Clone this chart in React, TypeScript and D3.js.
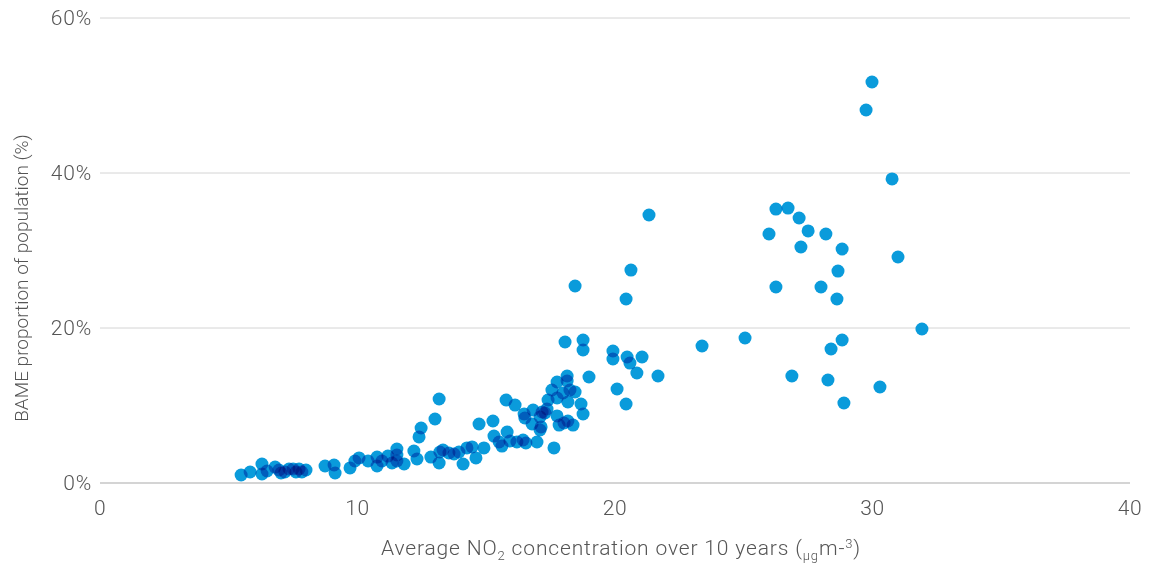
import React from "react";
import * as d3 from "d3";

const no2: number[] = [
  5.48, 5.83, 6.29, 6.29, 6.49, 6.8, 6.95, 7.03, 7.18, 7.34, 7.5, 7.61, 7.73, 7.84, 8.0,
  8.74, 9.09, 9.13, 9.71, 9.9, 10.06, 10.41, 10.76, 10.76, 10.95, 11.18, 11.34, 11.53, 11.53, 11.53,
  11.81, 12.19, 12.31, 12.39, 12.47, 13.01, 13.17, 12.85, 13.17, 13.2, 13.32, 13.55, 13.75, 13.94, 14.1,
  14.25, 14.45, 14.6, 14.72, 14.91, 15.26, 15.3, 15.5, 15.61, 15.77, 15.81, 15.92, 16.12, 16.19, 16.47,
  16.43, 16.54, 16.82, 16.5, 16.78, 16.97, 17.09, 17.17, 17.36, 17.4, 17.55, 17.75, 17.75, 17.63, 17.83,
  17.75, 17.98, 18.14, 18.14, 18.25, 18.45, 18.17, 18.68, 18.76, 18.17, 18.37, 18.02, 17.28, 17.09, 17.13,
  18.45, 20.43, 20.62, 18.06, 18.76, 18.76, 19.92, 19.92, 20.47, 21.05, 20.58, 20.85, 21.67, 18.99, 20.08,
  20.43, 21.32, 23.38, 25.05,
  29.98, 29.75, 30.76, 26.25, 26.72, 27.15, 27.5, 25.98, 28.19, 27.22, 28.82, 30.99, 28.66, 26.25, 28.0,
  28.62, 31.92, 28.82, 28.39, 26.87, 28.27, 30.29, 28.89,
];

const bame: number[] = [
  1.03, 1.42, 2.45, 1.16, 1.55, 2.06, 1.68, 1.29, 1.42, 1.81, 1.81, 1.42, 1.81, 1.42, 1.68,
  2.19, 2.32, 1.29, 1.94, 2.84, 3.23, 2.84, 3.35, 2.19, 2.84, 3.48, 2.58, 4.39, 3.61, 2.84,
  2.45, 4.13, 3.1, 5.94, 7.1, 8.26, 10.84, 3.35, 2.58, 4.0, 4.26, 3.87, 3.74, 4.0, 2.45,
  4.52, 4.65, 3.23, 7.61, 4.52, 8.0, 6.06, 5.29, 4.77, 10.71, 6.58, 5.42, 10.06, 5.29, 8.9,
  5.55, 5.16, 9.42, 8.39, 7.61, 5.29, 6.84, 9.16, 9.55, 10.71, 12.0, 10.97, 8.65, 4.52, 7.48,
  13.03, 11.61, 13.81, 13.16, 12.0, 11.74, 10.45, 10.19, 8.9, 8.0, 7.48, 7.74, 9.03, 8.52, 7.23,
  25.42, 23.74, 27.48, 18.19, 18.45, 17.16, 17.03, 16.0, 16.26, 16.26, 15.48, 14.19, 13.81, 13.68, 12.13,
  10.19, 34.58, 17.68, 18.71,
  51.74, 48.13, 39.23, 35.35, 35.48, 34.19, 32.52, 32.13, 32.13, 30.45, 30.19, 29.16, 27.35, 25.29, 25.29,
  23.74, 19.87, 18.45, 17.29, 13.81, 13.29, 12.39, 10.32,
];

const xTicks: number[] = [0, 10, 20, 30, 40];
const yTicks: number[] = [0, 20, 40, 60];

const W = 1161;
const H = 564;
const left = 100;
const right = 1130;
const top = 18;
const bottom = 483;

export default function App() {
  const x = d3.scaleLinear().domain([0, 40]).range([left, right]);
  const y = d3.scaleLinear().domain([0, 60]).range([bottom, top]);
  const font = "Roboto, 'Noto Sans', sans-serif";
  const pts = no2.map((v, i) => ({ x: v, y: bame[i] }));
  return (
    <svg width={W} height={H} style={{ position: "absolute", left: 0, top: 0 }}>
      <rect width={W} height={H} fill="#fff" />
      {yTicks.map((t) => (
        <g key={t}>
          <line x1={left} x2={right} y1={y(t)} y2={y(t)} stroke="#d4d4d4" strokeWidth={t === 0 ? 2 : 1} />
          <text x={92} y={y(t)} dy="0.35em" textAnchor="end" fontFamily={font} fontWeight={300} fontSize={21} letterSpacing={0.8} fill="#555">
            {t}%
          </text>
        </g>
      ))}
      {xTicks.map((t) => (
        <text key={t} x={x(t)} y={515} textAnchor="middle" fontFamily={font} fontWeight={300} fontSize={21} letterSpacing={0.5} fill="#555">
          {t}
        </text>
      ))}
      <g style={{ isolation: "isolate" }}>
        {pts.map((p, i) => (
          <circle key={i} cx={x(p.x)} cy={y(p.y)} r={6.5} fill="#0a9bdb" style={{ mixBlendMode: "multiply" }} />
        ))}
      </g>
      <text x={621} y={555} textAnchor="middle" fontFamily={font} fontWeight={300} fontSize={21} letterSpacing={0.85} fill="#555">
        Average NO
        <tspan fontSize={13} dy={5}>2</tspan>
        <tspan dy={-5}> concentration over 10 years (</tspan>
        <tspan fontSize={13} dy={5}>μg</tspan>
        <tspan dy={-5}>m-</tspan>
        <tspan fontSize={13} dy={-7}>3</tspan>
        <tspan dy={7}>)</tspan>
      </text>
      <text transform={`translate(28,${278}) rotate(-90)`} textAnchor="middle" fontFamily={font} fontWeight={300} fontSize={19} fill="#555">
        BAME proportion of population (%)
      </text>
    </svg>
  );
}
